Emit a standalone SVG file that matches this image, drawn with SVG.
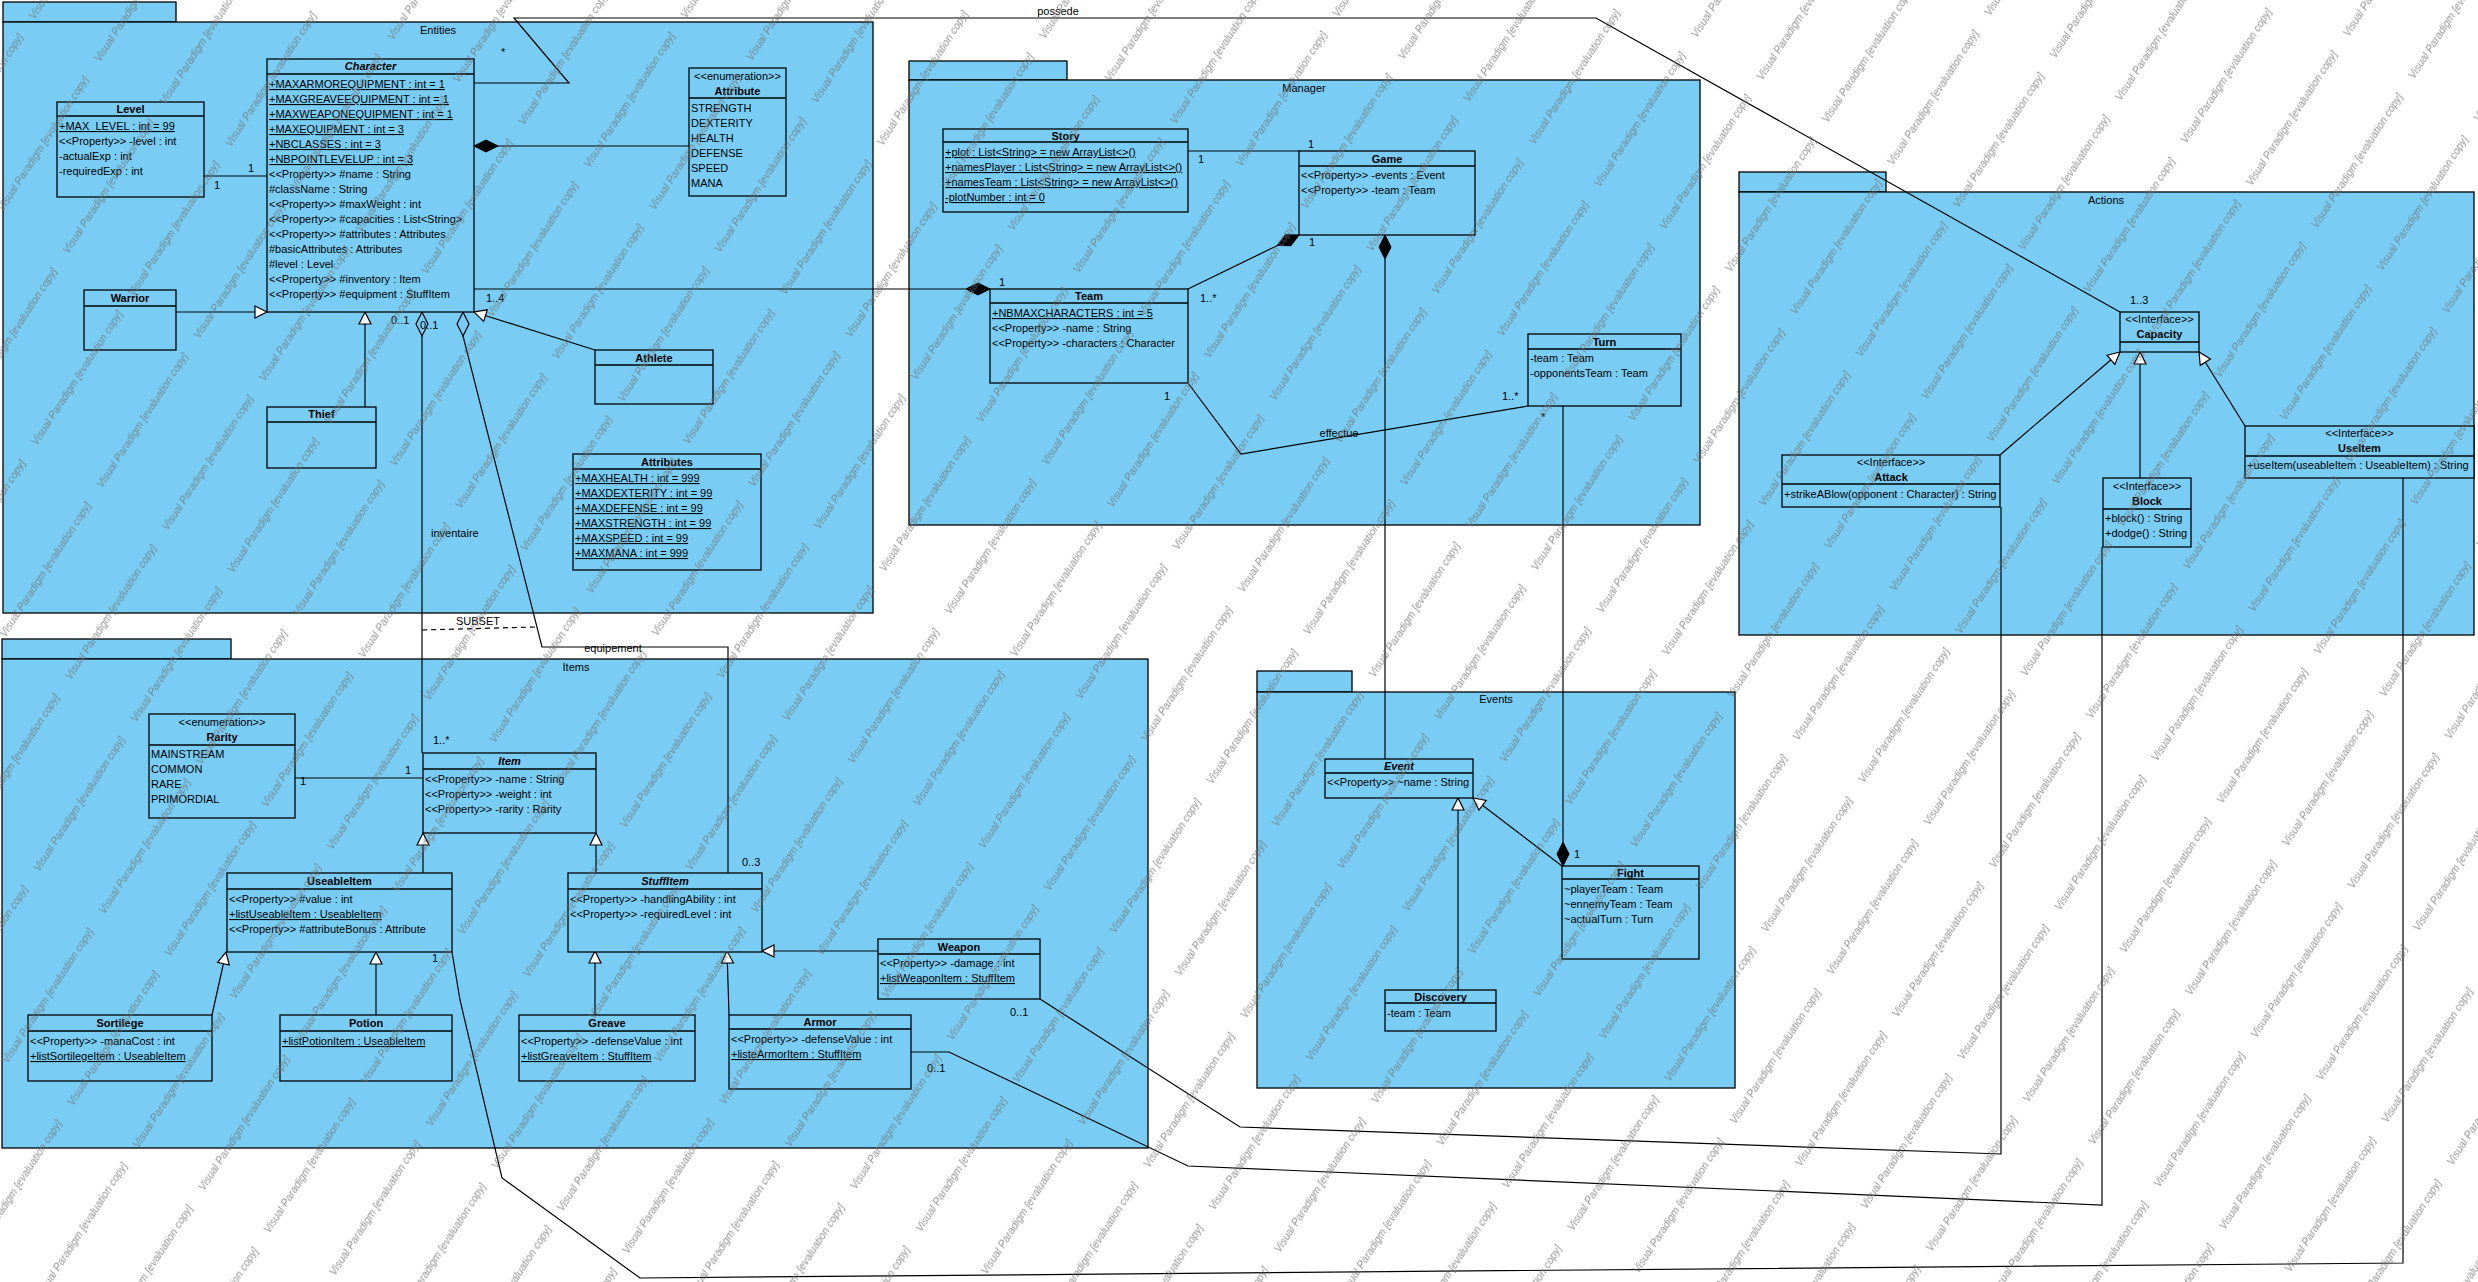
<svg xmlns="http://www.w3.org/2000/svg" width="2478" height="1282" viewBox="0 0 2478 1282">
<style>
.pkg{fill:#79CDF4;stroke:#000;stroke-width:1.3}
.cls{fill:#79CDF4;stroke:#000;stroke-width:1.3}
.sep{stroke:#000;stroke-width:1.3}
.t{font-family:"Liberation Sans",Arial,sans-serif;font-size:11px;fill:#000}
.c{text-anchor:middle}
.b{font-weight:bold}
.i{font-style:italic}
.u{text-decoration:underline}
.ln{fill:none;stroke:#000;stroke-width:1.2}
.dash{fill:none;stroke:#000;stroke-width:1.2;stroke-dasharray:5,4}
.wm{font-family:"Liberation Sans",Arial,sans-serif;font-size:10.5px;font-style:italic;fill:#6f6f6f;fill-opacity:0.75}
</style>
<defs>
<marker id="gen" markerUnits="userSpaceOnUse" markerWidth="16" markerHeight="16" refX="12" refY="6" orient="auto" overflow="visible"><path d="M0,0 L12,6 L0,12 Z" fill="#fff" stroke="#000" stroke-width="1.2"/></marker>
<marker id="comp" markerUnits="userSpaceOnUse" markerWidth="26" markerHeight="14" refX="0" refY="6" orient="auto" overflow="visible"><path d="M0,6 L12,0 L24,6 L12,12 Z" fill="#000" stroke="#000" stroke-width="1"/></marker>
<marker id="agg" markerUnits="userSpaceOnUse" markerWidth="26" markerHeight="14" refX="0" refY="6" orient="auto" overflow="visible"><path d="M0,6 L12,0 L24,6 L12,12 Z" fill="#79CDF4" stroke="#000" stroke-width="1.2"/></marker>
<pattern id="watermark" patternUnits="userSpaceOnUse" width="178" height="78" patternTransform="rotate(-57)">
<text x="2" y="40" class="wm">Visual Paradigm [evaluation copy]</text>
</pattern>
</defs>
<rect x="0" y="0" width="2478" height="1282" fill="#fff"/>

<g id="pkg-entities">
<rect x="3" y="2" width="173" height="20" class="pkg"/>
<rect x="3" y="22" width="870" height="591" class="pkg"/>
<text x="438" y="34" class="t c">Entities</text>
</g>
<g id="pkg-manager">
<rect x="909" y="61" width="158" height="19" class="pkg"/>
<rect x="909" y="80" width="791" height="445" class="pkg"/>
<text x="1304" y="92" class="t c">Manager</text>
</g>
<g id="pkg-actions">
<rect x="1739" y="172" width="147" height="20" class="pkg"/>
<rect x="1739" y="192" width="735" height="443" class="pkg"/>
<text x="2106" y="204" class="t c">Actions</text>
</g>
<g id="pkg-items">
<rect x="2" y="639" width="229" height="20" class="pkg"/>
<rect x="2" y="659" width="1146" height="489" class="pkg"/>
<text x="576" y="671" class="t c">Items</text>
</g>
<g id="pkg-events">
<rect x="1257" y="671" width="95" height="21" class="pkg"/>
<rect x="1257" y="692" width="478" height="396" class="pkg"/>
<text x="1496" y="703" class="t c">Events</text>
</g>

<g id="connectors">
<path class="ln" d="M204,176 H267"/>
<path class="ln" d="M176,312 H267" marker-end="url(#gen)"/>
<path class="ln" d="M365,407 V312" marker-end="url(#gen)"/>
<path class="ln" d="M595,350 L474,312" marker-end="url(#gen)"/>
<path class="ln" d="M474,146 H689" marker-start="url(#comp)"/>
<path class="ln" d="M990,289 H474" marker-start="url(#comp)"/>
<path class="ln" d="M474,83 H569 L514,18 H1596 L2120,312"/>
<path class="ln" d="M422,312 V753" marker-start="url(#agg)"/>
<path class="ln" d="M463,312 V336 L542,647 H728 V873" marker-start="url(#agg)"/>
<path class="dash" d="M422,630 L535,627"/>
<path class="ln" d="M1188,151 H1299"/>
<path class="ln" d="M1299,235 L1188,289" marker-start="url(#comp)"/>
<path class="ln" d="M1385,235 V759" marker-start="url(#comp)"/>
<path class="ln" d="M1188,383 L1241,454 L1528,406"/>
<path class="ln" d="M1563,866 V406" marker-start="url(#comp)"/>
<path class="ln" d="M1562,866 L1473,798" marker-end="url(#gen)"/>
<path class="ln" d="M1458,990 V798" marker-end="url(#gen)"/>
<path class="ln" d="M295,778 H423"/>
<path class="ln" d="M423,873 V833" marker-end="url(#gen)"/>
<path class="ln" d="M596,873 V833" marker-end="url(#gen)"/>
<path class="ln" d="M212,1015 L226,952" marker-end="url(#gen)"/>
<path class="ln" d="M376,1015 V952" marker-end="url(#gen)"/>
<path class="ln" d="M595,1015 V951" marker-end="url(#gen)"/>
<path class="ln" d="M729,1015 L727,951" marker-end="url(#gen)"/>
<path class="ln" d="M878,951 H762" marker-end="url(#gen)"/>
<path class="ln" d="M1040,999 L1240,1127 L2001,1154 V507"/>
<path class="ln" d="M911,1052 H949 L1188,1166 L2102,1205 V547"/>
<path class="ln" d="M452,952 L460,1000 L502,1178 L640,1278 L2403,1263 V478"/>
<path class="ln" d="M2000,455 L2120,352" marker-end="url(#gen)"/>
<path class="ln" d="M2140,478 V352" marker-end="url(#gen)"/>
<path class="ln" d="M2245,426 L2199,352" marker-end="url(#gen)"/>
</g>

<g id="connector-labels">
<text x="248" y="172" class="t">1</text>
<text x="214" y="189" class="t">1</text>
<text x="486" y="302" class="t">1..4</text>
<text x="999" y="286" class="t">1</text>
<text x="1058" y="15" class="t c">possede</text>
<text x="501" y="56" class="t">*</text>
<text x="2130" y="304" class="t">1..3</text>
<text x="391" y="324" class="t">0..1</text>
<text x="420" y="329" class="t">0..1</text>
<text x="431" y="537" class="t">inventaire</text>
<text x="433" y="744" class="t">1..*</text>
<text x="613" y="652" class="t c">equipement</text>
<text x="742" y="866" class="t">0..3</text>
<text x="478" y="625" class="t c">SUBSET</text>
<text x="1308" y="148" class="t">1</text>
<text x="1198" y="163" class="t">1</text>
<text x="1309" y="246" class="t">1</text>
<text x="1200" y="302" class="t">1..*</text>
<text x="1164" y="400" class="t">1</text>
<text x="1502" y="400" class="t">1..*</text>
<text x="1339" y="437" class="t c">effectue</text>
<text x="1541" y="421" class="t">*</text>
<text x="1574" y="858" class="t">1</text>
<text x="300" y="785" class="t">1</text>
<text x="405" y="774" class="t">1</text>
<text x="1010" y="1016" class="t">0..1</text>
<text x="927" y="1072" class="t">0..1</text>
<text x="432" y="962" class="t">1</text>
</g>

<g id="Level">
<rect x="57" y="102" width="147" height="95" class="cls"/>
<line x1="57" y1="116" x2="204" y2="116" class="sep"/>
<text x="130.5" y="113" class="t c b">Level</text>
<text x="59" y="130" class="t u">+MAX_LEVEL : int = 99</text>
<text x="59" y="145" class="t">&lt;&lt;Property&gt;&gt; -level : int</text>
<text x="59" y="160" class="t">-actualExp : int</text>
<text x="59" y="175" class="t">-requiredExp : int</text>
</g>

<g id="Character">
<rect x="267" y="59" width="207" height="253" class="cls"/>
<line x1="267" y1="74" x2="474" y2="74" class="sep"/>
<text x="370.5" y="70" class="t c b i">Character</text>
<text x="269" y="88" class="t u">+MAXARMOREQUIPMENT : int = 1</text>
<text x="269" y="103" class="t u">+MAXGREAVEEQUIPMENT : int = 1</text>
<text x="269" y="118" class="t u">+MAXWEAPONEQUIPMENT : int = 1</text>
<text x="269" y="133" class="t u">+MAXEQUIPMENT : int = 3</text>
<text x="269" y="148" class="t u">+NBCLASSES : int = 3</text>
<text x="269" y="163" class="t u">+NBPOINTLEVELUP : int = 3</text>
<text x="269" y="178" class="t">&lt;&lt;Property&gt;&gt; #name : String</text>
<text x="269" y="193" class="t">#className : String</text>
<text x="269" y="208" class="t">&lt;&lt;Property&gt;&gt; #maxWeight : int</text>
<text x="269" y="223" class="t">&lt;&lt;Property&gt;&gt; #capacities : List&lt;String&gt;</text>
<text x="269" y="238" class="t">&lt;&lt;Property&gt;&gt; #attributes : Attributes</text>
<text x="269" y="253" class="t">#basicAttributes : Attributes</text>
<text x="269" y="268" class="t">#level : Level</text>
<text x="269" y="283" class="t">&lt;&lt;Property&gt;&gt; #inventory : Item</text>
<text x="269" y="298" class="t">&lt;&lt;Property&gt;&gt; #equipment : StuffItem</text>
</g>

<g id="Attribute">
<rect x="689" y="68" width="97" height="128" class="cls"/>
<line x1="689" y1="98" x2="786" y2="98" class="sep"/>
<text x="737.5" y="80" class="t c">&lt;&lt;enumeration&gt;&gt;</text>
<text x="737.5" y="95" class="t c b">Attribute</text>
<text x="691" y="112" class="t">STRENGTH</text>
<text x="691" y="127" class="t">DEXTERITY</text>
<text x="691" y="142" class="t">HEALTH</text>
<text x="691" y="157" class="t">DEFENSE</text>
<text x="691" y="172" class="t">SPEED</text>
<text x="691" y="187" class="t">MANA</text>
</g>

<g id="Warrior">
<rect x="84" y="290" width="92" height="60" class="cls"/>
<line x1="84" y1="306" x2="176" y2="306" class="sep"/>
<text x="130" y="302" class="t c b">Warrior</text>
</g>
<g id="Thief">
<rect x="267" y="407" width="109" height="61" class="cls"/>
<line x1="267" y1="422" x2="376" y2="422" class="sep"/>
<text x="321.5" y="418" class="t c b">Thief</text>
</g>
<g id="Athlete">
<rect x="595" y="350" width="118" height="54" class="cls"/>
<line x1="595" y1="365" x2="713" y2="365" class="sep"/>
<text x="654" y="362" class="t c b">Athlete</text>
</g>

<g id="Attributes">
<rect x="573" y="454" width="188" height="116" class="cls"/>
<line x1="573" y1="469" x2="761" y2="469" class="sep"/>
<text x="667" y="466" class="t c b">Attributes</text>
<text x="575" y="482" class="t u">+MAXHEALTH : int = 999</text>
<text x="575" y="497" class="t u">+MAXDEXTERITY : int = 99</text>
<text x="575" y="512" class="t u">+MAXDEFENSE : int = 99</text>
<text x="575" y="527" class="t u">+MAXSTRENGTH : int = 99</text>
<text x="575" y="542" class="t u">+MAXSPEED : int = 99</text>
<text x="575" y="557" class="t u">+MAXMANA : int = 999</text>
</g>

<g id="Story">
<rect x="943" y="129" width="245" height="83" class="cls"/>
<line x1="943" y1="142" x2="1188" y2="142" class="sep"/>
<text x="1065.5" y="140" class="t c b">Story</text>
<text x="945" y="156" class="t u">+plot : List&lt;String&gt; = new ArrayList&lt;&gt;()</text>
<text x="945" y="171" class="t u">+namesPlayer : List&lt;String&gt; = new ArrayList&lt;&gt;()</text>
<text x="945" y="186" class="t u">+namesTeam : List&lt;String&gt; = new ArrayList&lt;&gt;()</text>
<text x="945" y="201" class="t u">-plotNumber : int = 0</text>
</g>

<g id="Game">
<rect x="1299" y="151" width="176" height="84" class="cls"/>
<line x1="1299" y1="166" x2="1475" y2="166" class="sep"/>
<text x="1387" y="163" class="t c b">Game</text>
<text x="1301" y="179" class="t">&lt;&lt;Property&gt;&gt; -events : Event</text>
<text x="1301" y="194" class="t">&lt;&lt;Property&gt;&gt; -team : Team</text>
</g>

<g id="Team">
<rect x="990" y="289" width="198" height="94" class="cls"/>
<line x1="990" y1="303" x2="1188" y2="303" class="sep"/>
<text x="1089" y="300" class="t c b">Team</text>
<text x="992" y="317" class="t u">+NBMAXCHARACTERS : int = 5</text>
<text x="992" y="332" class="t">&lt;&lt;Property&gt;&gt; -name : String</text>
<text x="992" y="347" class="t">&lt;&lt;Property&gt;&gt; -characters : Character</text>
</g>

<g id="Turn">
<rect x="1528" y="334" width="153" height="72" class="cls"/>
<line x1="1528" y1="349" x2="1681" y2="349" class="sep"/>
<text x="1604.5" y="346" class="t c b">Turn</text>
<text x="1530" y="362" class="t">-team : Team</text>
<text x="1530" y="377" class="t">-opponentsTeam : Team</text>
</g>

<g id="Capacity">
<rect x="2120" y="312" width="79" height="40" class="cls"/>
<line x1="2120" y1="342" x2="2199" y2="342" class="sep"/>
<text x="2159.5" y="323" class="t c">&lt;&lt;Interface&gt;&gt;</text>
<text x="2159.5" y="338" class="t c b">Capacity</text>
</g>
<g id="Attack">
<rect x="1782" y="455" width="218" height="52" class="cls"/>
<line x1="1782" y1="484" x2="2000" y2="484" class="sep"/>
<text x="1891" y="466" class="t c">&lt;&lt;Interface&gt;&gt;</text>
<text x="1891" y="481" class="t c b">Attack</text>
<text x="1784" y="498" class="t">+strikeABlow(opponent : Character) : String</text>
</g>
<g id="Block">
<rect x="2103" y="478" width="88" height="69" class="cls"/>
<line x1="2103" y1="509" x2="2191" y2="509" class="sep"/>
<text x="2147" y="490" class="t c">&lt;&lt;Interface&gt;&gt;</text>
<text x="2147" y="505" class="t c b">Block</text>
<text x="2105" y="522" class="t">+block() : String</text>
<text x="2105" y="537" class="t">+dodge() : String</text>
</g>
<g id="UseItem">
<rect x="2245" y="426" width="229" height="52" class="cls"/>
<line x1="2245" y1="456" x2="2474" y2="456" class="sep"/>
<text x="2359.5" y="437" class="t c">&lt;&lt;Interface&gt;&gt;</text>
<text x="2359.5" y="452" class="t c b">UseItem</text>
<text x="2247" y="469" class="t">+useItem(useableItem : UseableItem) : String</text>
</g>

<g id="Rarity">
<rect x="149" y="714" width="146" height="104" class="cls"/>
<line x1="149" y1="745" x2="295" y2="745" class="sep"/>
<text x="222" y="726" class="t c">&lt;&lt;enumeration&gt;&gt;</text>
<text x="222" y="741" class="t c b">Rarity</text>
<text x="151" y="758" class="t">MAINSTREAM</text>
<text x="151" y="773" class="t">COMMON</text>
<text x="151" y="788" class="t">RARE</text>
<text x="151" y="803" class="t">PRIMORDIAL</text>
</g>

<g id="Item">
<rect x="423" y="753" width="173" height="80" class="cls"/>
<line x1="423" y1="769" x2="596" y2="769" class="sep"/>
<text x="509.5" y="765" class="t c b i">Item</text>
<text x="425" y="783" class="t">&lt;&lt;Property&gt;&gt; -name : String</text>
<text x="425" y="798" class="t">&lt;&lt;Property&gt;&gt; -weight : int</text>
<text x="425" y="813" class="t">&lt;&lt;Property&gt;&gt; -rarity : Rarity</text>
</g>

<g id="UseableItem">
<rect x="227" y="873" width="225" height="79" class="cls"/>
<line x1="227" y1="889" x2="452" y2="889" class="sep"/>
<text x="339.5" y="885" class="t c b">UseableItem</text>
<text x="229" y="903" class="t">&lt;&lt;Property&gt;&gt; #value : int</text>
<text x="229" y="918" class="t u">+listUseableItem : UseableItem</text>
<text x="229" y="933" class="t">&lt;&lt;Property&gt;&gt; #attributeBonus : Attribute</text>
</g>

<g id="StuffItem">
<rect x="568" y="873" width="194" height="79" class="cls"/>
<line x1="568" y1="889" x2="762" y2="889" class="sep"/>
<text x="665" y="885" class="t c b i">StuffItem</text>
<text x="570" y="903" class="t">&lt;&lt;Property&gt;&gt; -handlingAbility : int</text>
<text x="570" y="918" class="t">&lt;&lt;Property&gt;&gt; -requiredLevel : int</text>
</g>

<g id="Weapon">
<rect x="878" y="939" width="162" height="60" class="cls"/>
<line x1="878" y1="954" x2="1040" y2="954" class="sep"/>
<text x="959" y="951" class="t c b">Weapon</text>
<text x="880" y="967" class="t">&lt;&lt;Property&gt;&gt; -damage : int</text>
<text x="880" y="982" class="t u">+listWeaponItem : StuffItem</text>
</g>

<g id="Greave">
<rect x="519" y="1015" width="176" height="66" class="cls"/>
<line x1="519" y1="1031" x2="695" y2="1031" class="sep"/>
<text x="607" y="1027" class="t c b">Greave</text>
<text x="521" y="1045" class="t">&lt;&lt;Property&gt;&gt; -defenseValue : int</text>
<text x="521" y="1060" class="t u">+listGreaveItem : StuffItem</text>
</g>

<g id="Armor">
<rect x="729" y="1015" width="182" height="74" class="cls"/>
<line x1="729" y1="1029" x2="911" y2="1029" class="sep"/>
<text x="820" y="1026" class="t c b">Armor</text>
<text x="731" y="1043" class="t">&lt;&lt;Property&gt;&gt; -defenseValue : int</text>
<text x="731" y="1058" class="t u">+listeArmorItem : StuffItem</text>
</g>

<g id="Sortilege">
<rect x="28" y="1015" width="184" height="66" class="cls"/>
<line x1="28" y1="1031" x2="212" y2="1031" class="sep"/>
<text x="120" y="1027" class="t c b">Sortilege</text>
<text x="30" y="1045" class="t">&lt;&lt;Property&gt;&gt; -manaCost : int</text>
<text x="30" y="1060" class="t u">+listSortilegeItem : UseableItem</text>
</g>

<g id="Potion">
<rect x="280" y="1015" width="172" height="66" class="cls"/>
<line x1="280" y1="1031" x2="452" y2="1031" class="sep"/>
<text x="366" y="1027" class="t c b">Potion</text>
<text x="282" y="1045" class="t u">+listPotionItem : UseableItem</text>
</g>

<g id="Event">
<rect x="1325" y="759" width="148" height="39" class="cls"/>
<line x1="1325" y1="773" x2="1473" y2="773" class="sep"/>
<text x="1399" y="770" class="t c b i">Event</text>
<text x="1327" y="786" class="t">&lt;&lt;Property&gt;&gt; ~name : String</text>
</g>

<g id="Fight">
<rect x="1562" y="866" width="137" height="93" class="cls"/>
<line x1="1562" y1="879" x2="1699" y2="879" class="sep"/>
<text x="1630.5" y="877" class="t c b">Fight</text>
<text x="1564" y="893" class="t">~playerTeam : Team</text>
<text x="1564" y="908" class="t">~ennemyTeam : Team</text>
<text x="1564" y="923" class="t">~actualTurn : Turn</text>
</g>

<g id="Discovery">
<rect x="1385" y="990" width="111" height="41" class="cls"/>
<line x1="1385" y1="1003" x2="1496" y2="1003" class="sep"/>
<text x="1440.5" y="1001" class="t c b">Discovery</text>
<text x="1387" y="1017" class="t">-team : Team</text>
</g>

<rect id="watermark-layer" x="0" y="0" width="2478" height="1282" fill="url(#watermark)" pointer-events="none"/>
</svg>
